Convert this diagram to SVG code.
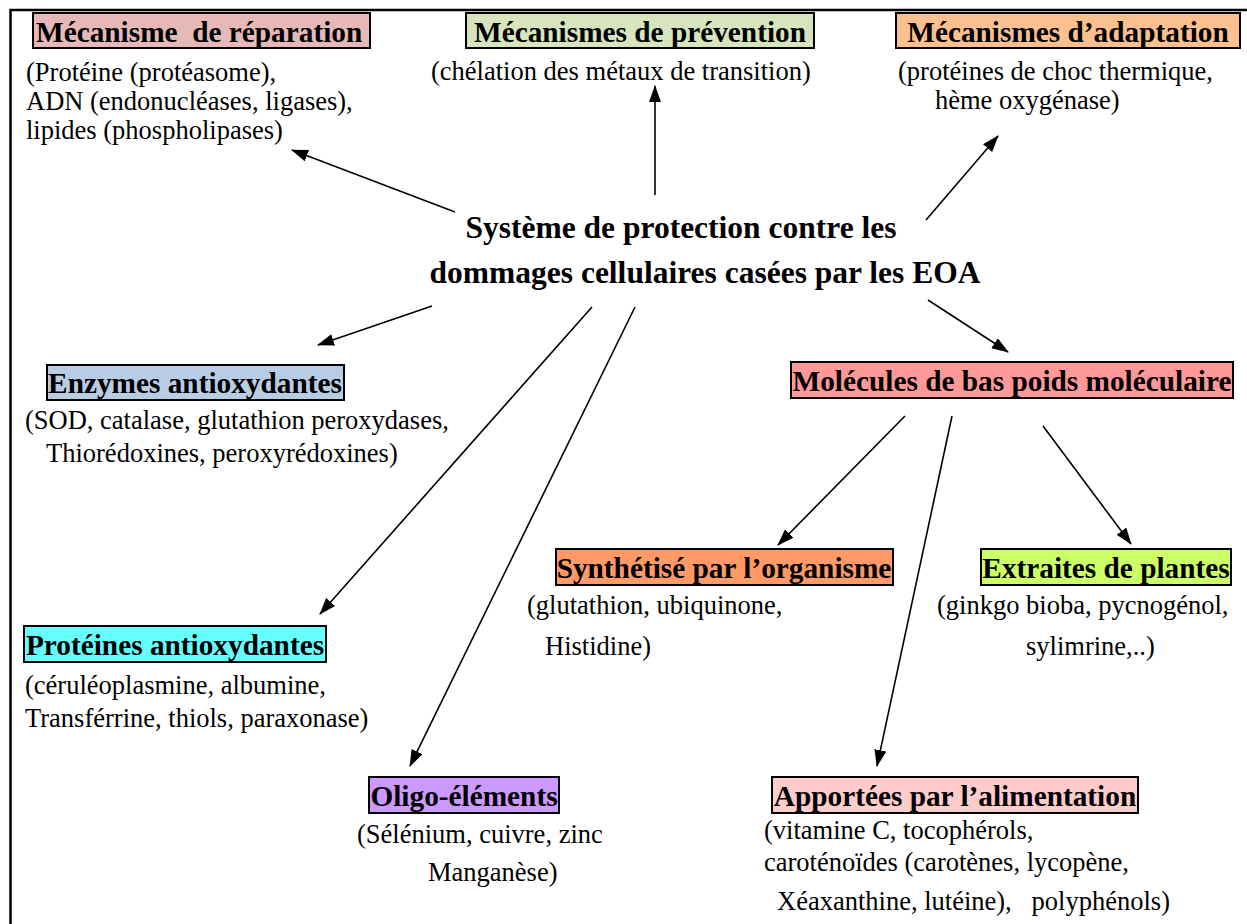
<svg xmlns="http://www.w3.org/2000/svg" width="1247" height="924" viewBox="0 0 1247 924">
<defs>
<style>
.lbl{font-family:"Liberation Serif","Times New Roman",serif;font-weight:bold;font-size:29.3px;fill:#000}
.txt{font-family:"Liberation Serif","Times New Roman",serif;font-size:26.5px;fill:#000}
.ttl{font-family:"Liberation Serif","Times New Roman",serif;font-weight:bold;font-size:31.5px;fill:#000}
.box{stroke:#000;stroke-width:2}
.con{stroke:#000;stroke-width:1.6;fill:none;marker-end:url(#ah)}
</style>
<marker id="ah" markerUnits="userSpaceOnUse" markerWidth="18" markerHeight="14" refX="16" refY="6" orient="auto">
<path d="M0,0 L17,6 L0,12 Z" fill="#000"/>
</marker>
</defs>
<rect width="1247" height="924" fill="#fff"/>
<path d="M10.5,924 V10 H1247" stroke="#000" stroke-width="2.5" fill="none"/>

<g id="center">
<text class="ttl" x="681" y="238" text-anchor="middle">Système de protection contre les</text>
<text class="ttl" x="705" y="283" text-anchor="middle">dommages cellulaires casées par les EOA</text>
</g>

<g id="reparation">
<rect class="box" x="33" y="13" width="337" height="35" fill="#E6B9B8"/>
<text class="lbl" x="36" y="42" xml:space="preserve">Mécanisme  de réparation</text>
<text class="txt" x="26" y="81">(Protéine (protéasome),</text>
<text class="txt" x="26" y="110">ADN (endonucléases, ligases),</text>
<text class="txt" x="26" y="139">lipides (phospholipases)</text>
</g>

<g id="prevention">
<rect class="box" x="466" y="13" width="348" height="35" fill="#D7E4BD"/>
<text class="lbl" x="640" y="42" text-anchor="middle">Mécanismes de prévention</text>
<text class="txt" x="431" y="80">(chélation des métaux de transition)</text>
</g>

<g id="adaptation">
<rect class="box" x="896" y="13" width="344" height="35" fill="#FAC090"/>
<text class="lbl" x="1068" y="42" text-anchor="middle">Mécanismes d’adaptation</text>
<text class="txt" x="898" y="80">(protéines de choc thermique,</text>
<text class="txt" x="935" y="109">hème oxygénase)</text>
</g>

<g id="enzymes">
<rect class="box" x="47" y="365" width="297" height="35" fill="#B8CCE4"/>
<text class="lbl" x="195" y="393" text-anchor="middle">Enzymes antioxydantes</text>
<text class="txt" x="25" y="429">(SOD, catalase, glutathion peroxydases,</text>
<text class="txt" x="46" y="462">Thiorédoxines, peroxyrédoxines)</text>
</g>

<g id="molecules">
<rect class="box" x="791" y="362" width="442" height="36" fill="#FF9999"/>
<text class="lbl" x="1012" y="391" text-anchor="middle">Molécules de bas poids moléculaire</text>
</g>

<g id="synthetise">
<rect class="box" x="556" y="549" width="337" height="36" fill="#FF9966"/>
<text class="lbl" x="724" y="578" text-anchor="middle">Synthétisé par l’organisme</text>
<text class="txt" x="527" y="614">(glutathion, ubiquinone,</text>
<text class="txt" x="545" y="655">Histidine)</text>
</g>

<g id="plantes">
<rect class="box" x="981" y="549" width="250" height="36" fill="#CCFF66"/>
<text class="lbl" x="1106" y="578" text-anchor="middle">Extraites de plantes</text>
<text class="txt" x="937" y="614">(ginkgo bioba, pycnogénol,</text>
<text class="txt" x="1026" y="655">sylimrine,..)</text>
</g>

<g id="proteines">
<rect class="box" x="24" y="626" width="302" height="36" fill="#66FFFF"/>
<text class="lbl" x="175" y="655" text-anchor="middle">Protéines antioxydantes</text>
<text class="txt" x="25" y="694">(céruléoplasmine, albumine,</text>
<text class="txt" x="25" y="727">Transférrine, thiols, paraxonase)</text>
</g>

<g id="oligo">
<rect class="box" x="369" y="777" width="190" height="36" fill="#CC99FF"/>
<text class="lbl" x="464" y="806" text-anchor="middle">Oligo-éléments</text>
<text class="txt" x="357" y="843">(Sélénium, cuivre, zinc</text>
<text class="txt" x="428" y="881">Manganèse)</text>
</g>

<g id="alimentation">
<rect class="box" x="772" y="777" width="366" height="36" fill="#FFCCCC"/>
<text class="lbl" x="955" y="806" text-anchor="middle">Apportées par l’alimentation</text>
<text class="txt" x="764" y="839">(vitamine C, tocophérols,</text>
<text class="txt" x="764" y="871">caroténoïdes (carotènes, lycopène,</text>
<text class="txt" x="777" y="910" xml:space="preserve">Xéaxanthine, lutéine),   polyphénols)</text>
</g>

<g id="connectors">
<line class="con" x1="455" y1="212" x2="292" y2="150"/>
<line class="con" x1="655" y1="195" x2="655" y2="86"/>
<line class="con" x1="926" y1="220" x2="998" y2="136"/>
<line class="con" x1="432" y1="306" x2="318" y2="345"/>
<line class="con" x1="928" y1="300" x2="1008" y2="352"/>
<line class="con" x1="592" y1="307" x2="320" y2="614"/>
<line class="con" x1="635" y1="307" x2="410" y2="766"/>
<line class="con" x1="905" y1="416" x2="778" y2="545"/>
<line class="con" x1="952" y1="416" x2="877" y2="766"/>
<line class="con" x1="1043" y1="426" x2="1131" y2="544"/>
</g>
</svg>
